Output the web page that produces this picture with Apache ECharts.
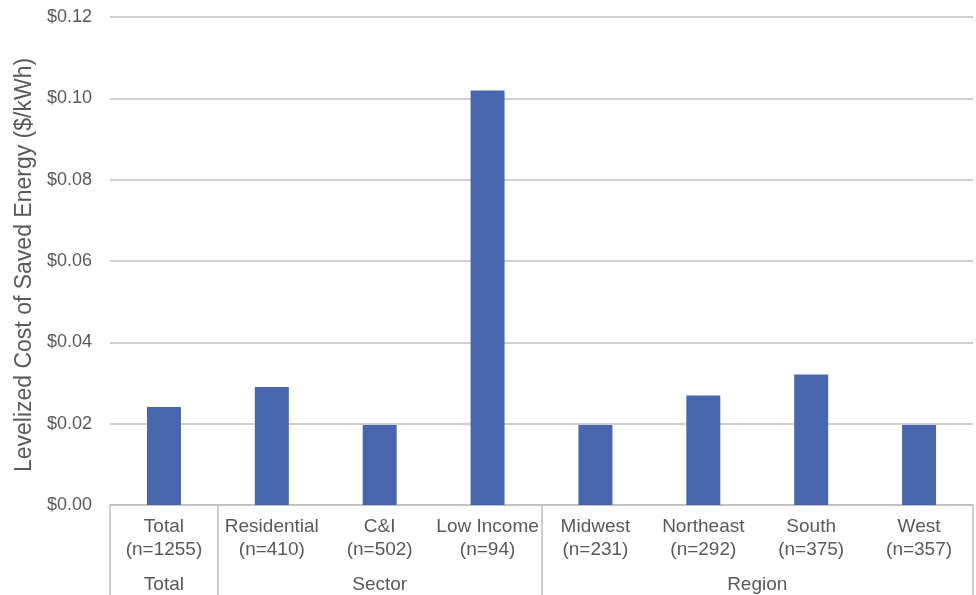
<!DOCTYPE html>
<html>
<head>
<meta charset="utf-8">
<script src="https://cdn.jsdelivr.net/npm/echarts@6/dist/echarts.min.js"></script>
<style>
  html, body { margin: 0; padding: 0; background: #fff; }
  #chart { width: 976px; height: 595px; }
</style>
</head>
<body>
<div id="chart"></div>
<script>
// Levelized cost of saved energy by program grouping
const categories = ['Total', 'Residential', 'C&I', 'Low Income', 'Midwest', 'Northeast', 'South', 'West'];
const sampleSizes = [1255, 410, 502, 94, 231, 292, 375, 357];
const costs = [0.0241, 0.0290, 0.0197, 0.1019, 0.0197, 0.0269, 0.0321, 0.0197];
// Outer grouping: name, first category index, last category index
const groupNames = ['Total', 'Sector', 'Region'];
const groupStart = [0, 1, 4];
const groupEnd = [0, 3, 7];
const yTicks = [0, 0.02, 0.04, 0.06, 0.08, 0.10, 0.12];

const textColor = '#595959';
const lineColor = '#bfbfbf';
const font = 'Liberation Sans, Arial, Helvetica, sans-serif';

const chart = echarts.init(document.getElementById('chart'), null, { renderer: 'canvas' });

const groupStartSet = new Set(groupStart);

const option = {
  animation: false,
  grid: { left: 110, right: 3, top: 17, bottom: 90, containLabel: false, outerBoundsMode: 'none' },
  xAxis: {
    type: 'category',
    data: categories.map((c, i) => c + '\n(n=' + sampleSizes[i] + ')'),
    boundaryGap: true,
    axisLine: { show: true, lineStyle: { color: lineColor, width: 1.5 } },
    axisTick: {
      show: true,
      length: 92,
      interval: (index) => groupStartSet.has(index),
      lineStyle: { color: lineColor, width: 1.5 }
    },
    axisLabel: {
      interval: 0,
      margin: 10,
      color: textColor,
      fontFamily: font,
      fontSize: 19,
      lineHeight: 23
    },
    splitLine: { show: false }
  },
  yAxis: {
    type: 'value',
    min: yTicks[0],
    max: yTicks[yTicks.length - 1],
    interval: 0.02,
    name: 'Levelized Cost of Saved Energy ($/kWh)',
    nameLocation: 'middle',
    nameGap: 70,
    nameRotate: 90,
    nameTextStyle: { color: textColor, fontFamily: font, fontSize: 23, padding: [0, 8, 0, 0] },
    axisLine: { show: false },
    axisTick: { show: false },
    axisLabel: {
      margin: 18,
      color: textColor,
      fontFamily: font,
      fontSize: 18,
      formatter: (v) => '$' + v.toFixed(2)
    },
    splitLine: { show: true, lineStyle: { color: lineColor, width: 1.5 } }
  },
  series: [{
    type: 'bar',
    data: costs,
    barWidth: '31.5%',
    itemStyle: { color: '#4866ad' }
  }]
};

chart.setOption(option);

// Outer group labels, centred under each group's span of categories
const groupLabelY = 585;
const graphics = groupNames.map((name, g) => {
  const x0 = chart.convertToPixel({ xAxisIndex: 0 }, groupStart[g]);
  const x1 = chart.convertToPixel({ xAxisIndex: 0 }, groupEnd[g]);
  return {
    type: 'text',
    x: (x0 + x1) / 2,
    y: groupLabelY,
    style: {
      text: name,
      fill: textColor,
      font: '19px ' + font,
      align: 'center',
      verticalAlign: 'middle'
    }
  };
});
chart.setOption({ graphic: graphics });
</script>
</body>
</html>
